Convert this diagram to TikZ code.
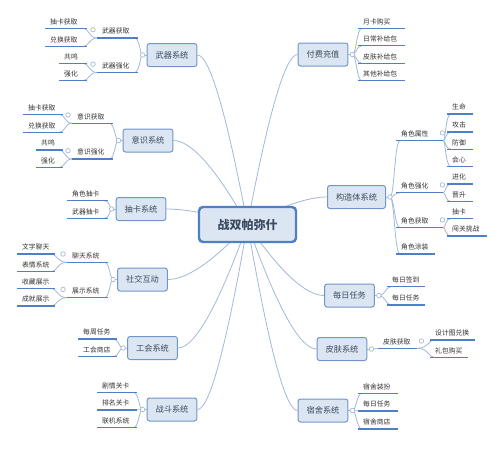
\documentclass[tikz,border=0pt]{standalone}
\usepackage{fontspec}
\setmainfont{Noto Sans CJK SC}
\usetikzlibrary{calc,backgrounds}
\definecolor{ulc}{HTML}{4F7FC4}
\definecolor{cnc}{HTML}{A3B9DA}
\definecolor{mfill}{HTML}{DCE6F2}
\definecolor{mdraw}{HTML}{7096CB}
\definecolor{cdraw}{HTML}{4F7FC4}
\definecolor{mtext}{HTML}{3B4A60}
\definecolor{stext}{HTML}{333333}
\definecolor{circc}{HTML}{A9BAD3}
\tikzset{
 conn/.style={draw=cnc, line width=0.8pt},
 ul/.style={draw=ulc, line width=1.5pt},
 main/.style={draw=mdraw, fill=mfill, line width=1pt, rounded corners=2.5pt, minimum height=23pt, inner xsep=8.5pt, inner ysep=0pt, text=mtext, font=\fontsize{8.2}{9}\selectfont},
 central/.style={draw=cdraw, fill=mfill, line width=2.4pt, rounded corners=4pt, minimum width=97pt, minimum height=35pt, text=mtext, font=\fontsize{12}{14}\selectfont\bfseries},
 sub/.style={anchor=south west, inner xsep=5pt, inner ysep=3.3pt, align=left, text=stext, font=\fontsize{6.8}{8}\selectfont},
 btn/.style={circle, draw=circc, fill=white, line width=0.7pt, inner sep=0pt, minimum size=4.5pt},
}
\newcommand\linkL[2]{\draw[conn] let \p1=(#1), \p2=(#2.south east) in (\p1) .. controls (\x2+1.5,\y1) and (\x2+1.5,\y2) .. (\x2-4,\y2);}
\newcommand\linkR[2]{\draw[conn] let \p1=(#1), \p2=(#2.south west) in (\p1) .. controls (\x2-1.5,\y1) and (\x2-1.5,\y2) .. (\x2+4,\y2);}
\newcommand\linkC[1]{\draw[conn] let \p1=(ctr.center), \p2=(#1) in (\p1) .. controls ({\x1+0.427*(\x2-\x1)},{\y1+0.667*(\y2-\y1)}) and ({\x2-0.24*(\x2-\x1)},\y2) .. (\p2);}
\begin{document}
\begin{tikzpicture}[x=1pt,y=-1pt]
\useasboundingbox (0,0) rectangle (499,453);
% main topics
\node[central] (ctr) at (247.5,224.5) {战双帕弥什};
\node[main] (mw) at (172,55) {武器系统};
\node[main] (my) at (148,140.5) {意识系统};
\node[main] (mc) at (141,209) {抽卡系统};
\node[main] (ms) at (142.5,279.5) {社交互动};
\node[main] (mg) at (152.5,348) {工会系统};
\node[main] (mf) at (172,409.5) {战斗系统};
\node[main] (mp) at (323,54.5) {付费充值};
\node[main] (mk) at (356.5,197) {构造体系统};
\node[main] (md) at (349.5,295.5) {每日任务};
\node[main] (mpf) at (342,349) {皮肤系统};
\node[main] (mh) at (323,410.5) {宿舍系统};
% button points
\coordinate (bw) at ($(mw.west)+(-4,0)$);
\coordinate (by) at ($(my.west)+(-4,0)$);
\coordinate (bc) at ($(mc.west)+(-4,0)$);
\coordinate (bs) at ($(ms.west)+(-4,0)$);
\coordinate (bg) at ($(mg.west)+(-4,0)$);
\coordinate (bf) at ($(mf.west)+(-4,0)$);
\coordinate (bp) at ($(mp.east)+(4,0)$);
\coordinate (bk) at ($(mk.east)+(4,0)$);
\coordinate (bd) at ($(md.east)+(4,0)$);
\coordinate (bpf) at ($(mpf.east)+(4,0)$);
\coordinate (bh) at ($(mh.east)+(4,0)$);
% sub topics left
\node[sub, text width=31pt] (w1) at (97,38) {武器获取};
\node[sub, text width=31pt] (w2) at (97,72.5) {武器强化};
\node[sub, text width=32pt] (w11) at (45,28.3) {抽卡获取};
\node[sub, text width=32pt] (w12) at (45,46.5) {兑换获取};
\node[sub, text width=18pt] (w21) at (59,63.3) {共鸣};
\node[sub, text width=18pt] (w22) at (59,80.5) {强化};
\node[sub, text width=31pt] (y1) at (72,123.3) {意识获取};
\node[sub, text width=31pt] (y2) at (72,159) {意识强化};
\node[sub, text width=30pt] (y11) at (23,114.3) {抽卡获取};
\node[sub, text width=30pt] (y12) at (23,132.3) {兑换获取};
\node[sub, text width=17pt] (y21) at (36,150) {共鸣};
\node[sub, text width=17pt] (y22) at (36,167.3) {强化};
\node[sub, text width=31pt] (c1) at (67,200.7) {角色抽卡};
\node[sub, text width=31pt] (c2) at (67,218.3) {武器抽卡};
\node[sub, text width=31pt] (s1) at (67,262.3) {聊天系统};
\node[sub, text width=31pt] (s2) at (67,297.7) {展示系统};
\node[sub, text width=28pt] (s11) at (17,254) {文字聊天};
\node[sub, text width=28pt] (s12) at (17,271.7) {表情系统};
\node[sub, text width=28pt] (s21) at (17,288.3) {收藏展示};
\node[sub, text width=28pt] (s22) at (17,306) {成就展示};
\node[sub, text width=29pt] (g1) at (78,339) {每周任务};
\node[sub, text width=29pt] (g2) at (78,356.7) {工会商店};
\node[sub, text width=30pt] (f1) at (97,392.3) {剧情关卡};
\node[sub, text width=30pt] (f2) at (97,410) {排名关卡};
\node[sub, text width=30pt] (f3) at (97,427.7) {联机系统};
% sub topics right
\node[sub, text width=37pt] (p1) at (358,28.3) {月卡购买};
\node[sub, text width=37pt] (p2) at (358,45.7) {日常补给包};
\node[sub, text width=37pt] (p3) at (358,63.3) {皮肤补给包};
\node[sub, text width=37pt] (p4) at (358,80.7) {其他补给包};
\node[sub, text width=37pt] (k1) at (396,140.7) {角色属性};
\node[sub, text width=37pt] (k2) at (396,192.7) {角色强化};
\node[sub, text width=37pt] (k3) at (396,227.7) {角色获取};
\node[sub, text width=29pt] (k4) at (396,254) {角色涂装};
\node[sub, text width=16pt] (k11) at (447,114) {生命};
\node[sub, text width=16pt] (k12) at (447,132) {攻击};
\node[sub, text width=16pt] (k13) at (447,149.3) {防御};
\node[sub, text width=16pt] (k14) at (447,166.7) {会心};
\node[sub, text width=16pt] (k21) at (447,184) {进化};
\node[sub, text width=16pt] (k22) at (447,201.7) {晋升};
\node[sub, text width=16pt] (k31) at (447,218.3) {抽卡};
\node[sub, text width=30pt] (k32) at (447,236) {闯关挑战};
\node[sub, text width=28pt] (d1) at (387,286.7) {每日签到};
\node[sub, text width=28pt] (d2) at (387,305) {每日任务};
\node[sub, text width=29pt] (pf) at (378,348.3) {皮肤获取};
\node[sub, text width=35pt] (pf1) at (430,340) {设计图兑换};
\node[sub, text width=28pt] (pf2) at (430,357.3) {礼包购买};
\node[sub, text width=30pt] (h1) at (358,393.3) {宿舍装扮};
\node[sub, text width=30pt] (h2) at (358,411) {每日任务};
\node[sub, text width=30pt] (h3) at (358,429) {宿舍商店};
% connectors
\begin{pgfonlayer}{background}
\fill[white] (0,0) rectangle (499,453);
\foreach \m in {mw.east,my.east,mc.east,ms.east,mg.east,mf.east,mp.west,mk.west,md.west,mpf.west,mh.west} {\linkC{\m}}
\draw[conn] (mw.west) -- (bw); \draw[conn] (my.west) -- (by); \draw[conn] (mc.west) -- (bc);
\draw[conn] (ms.west) -- (bs); \draw[conn] (mg.west) -- (bg); \draw[conn] (mf.west) -- (bf);
\draw[conn] (mp.east) -- (bp); \draw[conn] (mk.east) -- (bk); \draw[conn] (md.east) -- (bd);
\draw[conn] (mpf.east) -- (bpf); \draw[conn] (mh.east) -- (bh);
\linkL{bw}{w1} \linkL{bw}{w2}
\linkL{w1.south west}{w11} \linkL{w1.south west}{w12}
\linkL{w2.south west}{w21} \linkL{w2.south west}{w22}
\linkL{by}{y1} \linkL{by}{y2}
\linkL{y1.south west}{y11} \linkL{y1.south west}{y12}
\linkL{y2.south west}{y21} \linkL{y2.south west}{y22}
\linkL{bc}{c1} \linkL{bc}{c2}
\linkL{bs}{s1} \linkL{bs}{s2}
\linkL{s1.south west}{s11} \linkL{s1.south west}{s12}
\linkL{s2.south west}{s21} \linkL{s2.south west}{s22}
\linkL{bg}{g1} \linkL{bg}{g2}
\linkL{bf}{f1} \linkL{bf}{f2} \linkL{bf}{f3}
\linkR{bp}{p1} \linkR{bp}{p2} \linkR{bp}{p3} \linkR{bp}{p4}
\linkR{bk}{k1} \linkR{bk}{k2} \linkR{bk}{k3} \linkR{bk}{k4}
\linkR{k1.south east}{k11} \linkR{k1.south east}{k12} \linkR{k1.south east}{k13} \linkR{k1.south east}{k14}
\linkR{k2.south east}{k21} \linkR{k2.south east}{k22}
\linkR{k3.south east}{k31} \linkR{k3.south east}{k32}
\linkR{bd}{d1} \linkR{bd}{d2}
\linkR{bpf}{pf}
\linkR{pf.south east}{pf1} \linkR{pf.south east}{pf2}
\linkR{bh}{h1} \linkR{bh}{h2} \linkR{bh}{h3}
\end{pgfonlayer}
% underlines
\foreach \n in {w1,w2,w11,w12,w21,w22,y1,y2,y11,y12,y21,y22,c1,c2,s1,s2,s11,s12,s21,s22,g1,g2,f1,f2,f3,p1,p2,p3,p4,k1,k2,k3,k4,k11,k12,k13,k14,k21,k22,k31,k32,d1,d2,pf,pf1,pf2,h1,h2,h3}
  {\draw[ul] (\n.south west) -- (\n.south east);}
% collapse buttons
\foreach \b in {bw,by,bc,bs,bg,bf,bp,bk,bd,bpf,bh} {\node[btn] at (\b) {};}
\foreach \n in {w1,w2,y1,y2,s1,s2} {\node[btn] at ($(\n.south west)+(-4,-8.3)$) {};}
\foreach \n in {k1,k2,k3} {\node[btn] at ($(\n.south east)+(-1,-7.8)$) {};}
\node[btn] at ($(pf.south east)+(4,-7.3)$) {};
\end{tikzpicture}
\end{document}
